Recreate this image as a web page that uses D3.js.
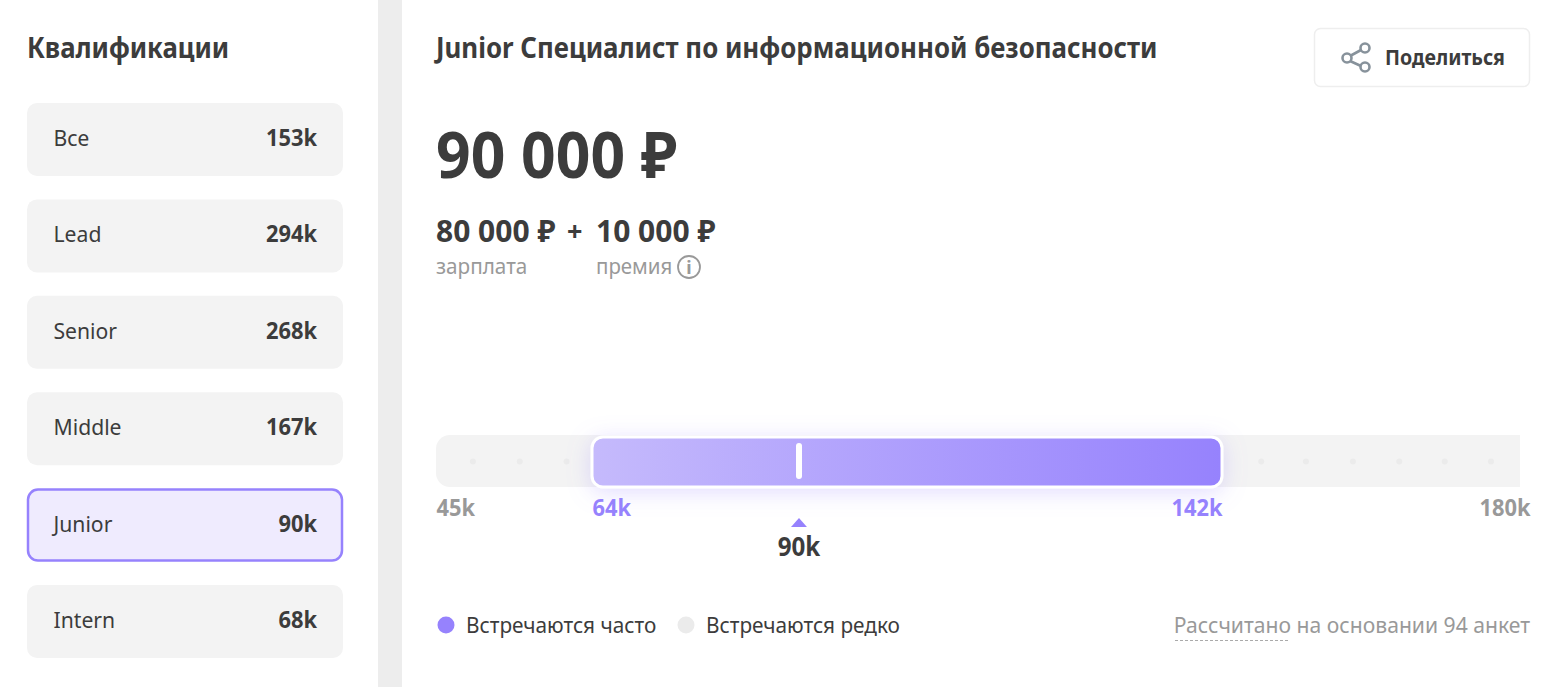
<!DOCTYPE html>
<html>
<head>
<meta charset="utf-8">
<script src="https://cdn.jsdelivr.net/npm/d3@7"></script>
<style>
    html, body { margin: 0; padding: 0; background: #fff; }
    svg { display: block; }
    text { font-family: "Noto Sans", sans-serif; fill: #3c3c3c; }
</style>
</head>
<body>
<script>
// Chart data
var grades = ["Все", "Lead", "Senior", "Middle", "Junior", "Intern"];
var gradeValues = [153, 294, 268, 167, 90, 68];
var selectedGrade = "Junior";

var salary = 80000;
var bonus = 10000;
var rangeTicks = [45, 64, 142, 180];
var rangeLow = 64;
var rangeHigh = 142;
var median = 90;
var dotValues = [49.5, 55.2, 60.9, 147, 152.7, 158.7, 164.6, 170.4, 176.3];

var legendLabels = ["Встречаются часто", "Встречаются редко"];

var width = 1560, height = 687;
var purple = "#9682fd";

// shrink text horizontally, the page font is narrower than Noto Sans
function squeeze(sel, k)
{
    sel.each(function ()
    {
        var w = this.getComputedTextLength();
        d3.select(this).attr("textLength", w * k).attr("lengthAdjust", "spacingAndGlyphs");
    });
    return sel;
}

var svg = d3.select("body").append("svg")
    .attr("width", width)
    .attr("height", height);

var defs = svg.append("defs");

var grad = defs.append("linearGradient").attr("id", "rangeFill");
grad.append("stop").attr("offset", "0%").attr("stop-color", "#c5baFC");
grad.append("stop").attr("offset", "100%").attr("stop-color", "#9682fd");

var glow = defs.append("filter").attr("id", "glow")
    .attr("x", "-10%").attr("y", "-80%").attr("width", "120%").attr("height", "260%");
glow.append("feDropShadow")
    .attr("dx", 0).attr("dy", 4).attr("stdDeviation", 11)
    .attr("flood-color", purple).attr("flood-opacity", 0.28);

// divider between the two panels
svg.append("rect")
    .attr("x", 378).attr("y", 0)
    .attr("width", 24).attr("height", height)
    .attr("fill", "#ededed");

// left panel
squeeze(svg.append("text")
    .attr("x", 27).attr("y", 58)
    .style("font-size", "28.6px").style("font-weight", 700)
    .text("Квалификации"), 0.9);

var rowY = d3.scaleBand()
    .domain(grades)
    .range([103, 658])
    .paddingInner(0.243)
    .paddingOuter(0);

var rows = svg.selectAll(".row")
    .data(grades)
    .enter().append("g")
    .attr("class", "row")
    .attr("transform", function (d) { return "translate(27," + rowY(d) + ")"; });

rows.append("rect")
    .attr("x", function (d) { return d === selectedGrade ? 1 : 0; })
    .attr("y", function (d) { return d === selectedGrade ? 1 : 0; })
    .attr("width", function (d) { return d === selectedGrade ? 314 : 316; })
    .attr("height", function (d) { return d === selectedGrade ? 71 : 73; })
    .attr("rx", 10)
    .attr("fill", function (d) { return d === selectedGrade ? "#efebfe" : "#f3f3f3"; })
    .attr("stroke", function (d) { return d === selectedGrade ? purple : "none"; })
    .attr("stroke-width", 2.5);

squeeze(rows.append("text")
    .attr("x", 26.5).attr("y", 43)
    .style("font-size", "22.5px")
    .text(function (d) { return d; }), 0.94);

squeeze(rows.append("text")
    .attr("x", 290).attr("y", 43)
    .attr("text-anchor", "end")
    .style("font-size", "23px").style("font-weight", 700)
    .text(function (d, i) { return gradeValues[i] + "k"; }), 0.95);

// right panel header
squeeze(svg.append("text")
    .attr("x", 436).attr("y", 58)
    .style("font-size", "28.6px").style("font-weight", 700)
    .text("Junior Специалист по информационной безопасности"), 0.904);

svg.append("rect")
    .attr("x", 1314.5).attr("y", 28.5)
    .attr("width", 215).attr("height", 58)
    .attr("rx", 6)
    .attr("fill", "#fff").attr("stroke", "#eeeeee").attr("stroke-width", 1.5);

var share = svg.append("g")
    .attr("fill", "none").attr("stroke", "#87929b").attr("stroke-width", 2.6);
share.append("path").attr("d", "M1361 50L1350 56M1350 61L1361 66");
share.append("circle").attr("cx", 1347).attr("cy", 58).attr("r", 4.5);
share.append("circle").attr("cx", 1365).attr("cy", 48).attr("r", 4.5);
share.append("circle").attr("cx", 1365).attr("cy", 67).attr("r", 4.5);

squeeze(svg.append("text")
    .attr("x", 1385).attr("y", 65)
    .style("font-size", "21px").style("font-weight", 700)
    .text("Поделиться"), 0.935);

// amounts
var ru = d3.formatLocale({ decimal: ",", thousands: " ", grouping: [3], currency: ["", " ₽"] });
var money = ru.format("$,d");

squeeze(svg.append("text")
    .attr("x", 436).attr("y", 178)
    .style("font-size", "64px").style("font-weight", 700)
    .text(money(salary + bonus)), 0.947);

squeeze(svg.append("text")
    .attr("x", 436).attr("y", 242)
    .style("font-size", "30px").style("font-weight", 700)
    .text(money(salary)), 1);

svg.append("text")
    .attr("x", 567).attr("y", 241)
    .style("font-size", "27px").style("font-weight", 700)
    .text("+");

squeeze(svg.append("text")
    .attr("x", 596).attr("y", 242)
    .style("font-size", "30px").style("font-weight", 700)
    .text(money(bonus)), 1);

squeeze(svg.append("text")
    .attr("x", 436).attr("y", 274)
    .style("font-size", "22px").style("fill", "#999")
    .text("зарплата"), 0.94);

squeeze(svg.append("text")
    .attr("x", 596).attr("y", 274)
    .style("font-size", "22px").style("fill", "#999")
    .text("премия"), 0.93);

svg.append("circle")
    .attr("cx", 689).attr("cy", 267).attr("r", 11)
    .attr("fill", "none").attr("stroke", "#999").attr("stroke-width", 1.8);
svg.append("text")
    .attr("x", 689).attr("y", 274).attr("text-anchor", "middle")
    .style("font-size", "18px").style("font-weight", 700).style("fill", "#999")
    .text("i");

// salary range
var x = d3.scaleLinear()
    .domain([45, rangeLow, median, rangeHigh, 180])
    .range([436, 592, 799, 1222, 1520]);

var trackTop = 435, trackHeight = 52;

svg.append("path")
    .attr("d", "M" + x(180) + " " + trackTop
        + "H" + (x(45) + 14)
        + "a14 14 0 0 0 -14 14"
        + "V" + (trackTop + trackHeight - 14)
        + "a14 14 0 0 0 14 14"
        + "H" + x(180) + "Z")
    .attr("fill", "#f3f3f3");

svg.selectAll(".dot")
    .data(dotValues)
    .enter().append("circle")
    .attr("class", "dot")
    .attr("cx", function (d) { return x(d); })
    .attr("cy", trackTop + trackHeight / 2 + 0.5)
    .attr("r", 3)
    .attr("fill", "#ebebeb");

svg.append("rect")
    .attr("x", x(rangeLow)).attr("y", trackTop + 2)
    .attr("width", x(rangeHigh) - x(rangeLow)).attr("height", trackHeight - 2)
    .attr("rx", 11)
    .attr("fill", "url(#rangeFill)")
    .attr("stroke", "#fff").attr("stroke-width", 3)
    .attr("filter", "url(#glow)");

svg.append("rect")
    .attr("x", x(median) - 3).attr("y", 443)
    .attr("width", 6).attr("height", 36)
    .attr("rx", 3)
    .attr("fill", "#fff");

// tick labels come from the axis
var axis = svg.append("g")
    .attr("class", "axis")
    .attr("transform", "translate(0,494)")
    .call(d3.axisBottom(x)
        .tickValues(rangeTicks)
        .tickSize(0)
        .tickFormat(function (d) { return d + "k"; }));

axis.select(".domain").remove();

axis.selectAll("text")
    .attr("x", function (d) { return d === 180 ? 10 : 0; })
    .attr("y", 0)
    .attr("dy", "22px")
    .attr("text-anchor", function (d) { return d >= rangeHigh ? "end" : "start"; })
    .attr("font-family", null)
    .style("font-size", "23px")
    .style("font-weight", 700)
    .style("fill", function (d) { return d === rangeLow || d === rangeHigh ? purple : "#999"; });
squeeze(axis.selectAll("text"), 0.95);

svg.append("path")
    .attr("d", d3.symbol().type(d3.symbolTriangle).size(110))
    .attr("transform", "translate(" + x(median) + ",524) scale(1,0.65)")
    .attr("fill", purple);

squeeze(svg.append("text")
    .attr("x", x(median)).attr("y", 556)
    .attr("text-anchor", "middle")
    .style("font-size", "26px").style("font-weight", 700)
    .text(median + "k"), 0.93);

// legend
var legendX = [446, 686];
var legendColors = [purple, "#ebebeb"];

var legend = svg.selectAll(".legend")
    .data(legendLabels)
    .enter().append("g")
    .attr("class", "legend")
    .attr("transform", function (d, i) { return "translate(" + legendX[i] + ",625)"; });

legend.append("circle")
    .attr("r", 8.5)
    .attr("fill", function (d, i) { return legendColors[i]; });

squeeze(legend.append("text")
    .attr("x", 20).attr("y", 8)
    .style("font-size", "22px")
    .text(function (d) { return d; }), 0.945);

// footnote
squeeze(svg.append("text")
    .attr("x", 1530).attr("y", 633)
    .attr("text-anchor", "end")
    .style("font-size", "22px").style("fill", "#999")
    .text("Рассчитано на основании 94 анкет"), 0.96);

svg.append("line")
    .attr("x1", 1175).attr("x2", 1289)
    .attr("y1", 640.5).attr("y2", 640.5)
    .attr("stroke", "#aaa").attr("stroke-width", 1.2)
    .attr("stroke-dasharray", "3 2");
</script>
</body>
</html>
